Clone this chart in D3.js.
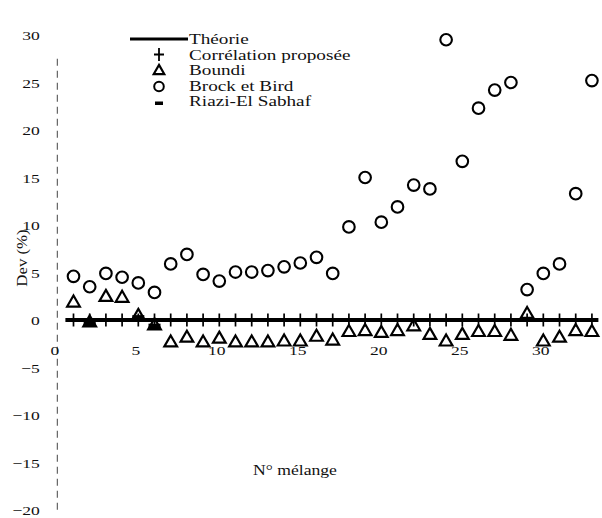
<!DOCTYPE html>
<html>
<head>
<meta charset="utf-8">
<script src="https://cdn.jsdelivr.net/npm/d3@7"></script>
<style>
  body { margin: 0; background: #fff; }
  svg { display: block; }
  text { font-family: "Liberation Serif", "Times New Roman", serif; fill: #111; }
</style>
</head>
<body>
<svg id="chart" width="602" height="518"></svg>
<script>
// Mixture numbers (N° mélange)
const melanges = [1, 2, 3, 4, 5, 6, 7, 8, 9, 10, 11, 12, 13, 14, 15, 16, 17,
                  18, 19, 20, 21, 22, 23, 24, 25, 26, 27, 28, 29, 30, 31, 32, 33];

// Theory: zero deviation across the whole range of mixtures
const theorieX = [0.5, 33.4];
const theorieY = [0, 0];

// Proposed correlation: deviation (%) per mixture
const correlation = [0, 0, 0, 0, 0, 0, 0, 0, 0, 0, 0, 0, 0, 0, 0, 0, 0,
                     0, 0, 0, 0, 0, 0, 0, 0, 0, 0, 0, 0, 0, 0, 0, 0];

// Boundi: deviation (%) per mixture
const boundi = [1.8, -0.3, 2.4, 2.3, 0.4, -0.6, -2.4, -1.9, -2.4, -2.0, -2.4, -2.4, -2.4, -2.3, -2.3, -1.8, -2.2,
                -1.3, -1.2, -1.4, -1.2, -0.7, -1.6, -2.3, -1.6, -1.3, -1.3, -1.7, 0.6, -2.3, -1.9, -1.2, -1.3];

// Brock et Bird: deviation (%) per mixture
const brockBird = [4.6, 3.5, 4.9, 4.5, 3.9, 2.9, 5.9, 6.9, 4.8, 4.1, 5.05, 5.05, 5.2, 5.6, 6.0, 6.6, 4.9,
                   9.8, 15.0, 10.3, 11.9, 14.2, 13.8, 29.5, 16.7, 22.3, 24.2, 25.0, 3.2, 4.9, 5.9, 13.3, 25.2];

// Riazi-El Sahhaf: only a few mixtures
const riaziMelanges = [2, 5, 6];
const riazi = [-0.4, 0.2, -0.7];

// Axis ticks
const xTicks = [0, 5, 10, 15, 20, 25, 30];
const yTicks = [-20, -15, -10, -5, 0, 5, 10, 15, 20, 25, 30];

// Legend entries
const legendLabels = ["Théorie", "Corrélation proposée", "Boundi", "Brock et Bird", "Riazi-El Sabhaf"];

const svg = d3.select("#chart");
const serif = "'Liberation Serif', 'Times New Roman', serif";

const plot = { left: 57.3, right: 598.4, top: 35, bottom: 510 };
const x = d3.scaleLinear().domain([0, 33.4]).range([plot.left, plot.right]);
const y = d3.scaleLinear().domain([-20, 30]).range([plot.bottom, plot.top]);

// Text in this figure is set slightly wide
function wideText(g, str, tx, ty, sx, size, anchor, rotate) {
  return g.append("text")
    .attr("transform", `translate(${tx},${ty})${rotate ? ` rotate(${rotate})` : ""} scale(${sx},1)`)
    .attr("font-size", size)
    .attr("text-anchor", anchor || "start")
    .attr("dy", "0.35em")
    .text(str);
}

// Y axis: broken (dashed) vertical rule with tick labels on the left
svg.append("line")
  .attr("x1", x(0)).attr("x2", x(0))
  .attr("y1", y(27.5)).attr("y2", y(-20))
  .attr("stroke", "#444").attr("stroke-width", 1)
  .attr("stroke-dasharray", "7,5");

const yAxis = svg.append("g")
  .attr("transform", `translate(${x(0)},0)`)
  .call(d3.axisLeft(y).tickValues(yTicks).tickSize(0).tickPadding(0).tickFormat(d3.format("d")))
  .attr("font-family", null).attr("font-size", null);
yAxis.select(".domain").remove();
yAxis.selectAll("text")
  .attr("x", null).attr("dy", null)
  .style("font-family", serif)
  .style("font-size", "13px")
  .attr("fill", "#111")
  .attr("transform", "translate(-17.5,4.5) scale(1.35,1)")
  .attr("text-anchor", "end");

// X axis: tick labels only, beneath the zero line
const xAxis = svg.append("g")
  .attr("transform", `translate(0,${y(0)})`)
  .call(d3.axisBottom(x).tickValues(xTicks).tickSize(0).tickPadding(0).tickFormat(d3.format("d")))
  .attr("font-family", null).attr("font-size", null);
xAxis.select(".domain").remove();
xAxis.selectAll("text")
  .attr("y", null).attr("dy", null)
  .style("font-family", serif)
  .style("font-size", "13px")
  .attr("fill", "#111")
  .attr("transform", "translate(-3,34.5) scale(1.35,1)")
  .attr("text-anchor", "middle");

// Axis titles
wideText(svg, "Dev (%)", 22, 258, 1.2, 14, "middle", -90);
wideText(svg, "N° mélange", 295, 470, 1.26, 14, "middle");

// Theory line
const line = d3.line().x(d => x(d[0])).y(d => y(d[1]));
svg.append("path")
  .datum(d3.zip(theorieX, theorieY))
  .attr("d", line)
  .attr("fill", "none")
  .attr("stroke", "#000")
  .attr("stroke-width", 3.8);

// Proposed correlation: plus markers
const plusPath = "M-5,0H5M0,-6.5V6.5";
svg.append("g").selectAll("path")
  .data(d3.zip(melanges, correlation))
  .join("path")
  .attr("transform", d => `translate(${x(d[0])},${y(d[1])})`)
  .attr("d", plusPath)
  .attr("stroke", "#000").attr("stroke-width", 1.7).attr("fill", "none");

// Boundi: open triangles
const tri = d3.symbol(d3.symbolTriangle, 70);
svg.append("g").selectAll("path")
  .data(d3.zip(melanges, boundi))
  .join("path")
  .attr("transform", d => `translate(${x(d[0])},${y(d[1])})`)
  .attr("d", tri)
  .attr("fill", "none")
  .attr("stroke", "#000").attr("stroke-width", 2.2);

// Brock et Bird: open circles
svg.append("g").selectAll("circle")
  .data(d3.zip(melanges, brockBird))
  .join("circle")
  .attr("cx", d => x(d[0])).attr("cy", d => y(d[1]))
  .attr("r", 5.8)
  .attr("fill", "none")
  .attr("stroke", "#000").attr("stroke-width", 2.1);

// Riazi-El Sahhaf: short thick dashes
svg.append("g").selectAll("rect")
  .data(d3.zip(riaziMelanges, riazi))
  .join("rect")
  .attr("x", d => x(d[0]) - 6).attr("y", d => y(d[1]) - 3)
  .attr("width", 12).attr("height", 6)
  .attr("fill", "#000");

// Legend
const legend = svg.append("g");
const legendRows = [39, 54.5, 70, 85.5, 101];
const keyX = 159, textX = 189;

legend.append("line")
  .attr("x1", 130).attr("x2", 188)
  .attr("y1", legendRows[0]).attr("y2", legendRows[0])
  .attr("stroke", "#000").attr("stroke-width", 3);
legend.append("path")
  .attr("transform", `translate(${keyX},${legendRows[1]})`)
  .attr("d", plusPath)
  .attr("stroke", "#000").attr("stroke-width", 1.8).attr("fill", "none");
legend.append("path")
  .attr("transform", `translate(${keyX},${legendRows[2] + 1})`)
  .attr("d", d3.symbol(d3.symbolTriangle, 48))
  .attr("fill", "none").attr("stroke", "#000").attr("stroke-width", 2.2);
legend.append("circle")
  .attr("cx", keyX).attr("cy", legendRows[3] + 1).attr("r", 4.8)
  .attr("fill", "none").attr("stroke", "#000").attr("stroke-width", 2);
legend.append("rect")
  .attr("x", keyX - 4).attr("y", legendRows[4] + 0.5)
  .attr("width", 8).attr("height", 3.5)
  .attr("fill", "#000");

legendLabels.forEach((lab, i) => wideText(legend, lab, textX, legendRows[i], 1.28, 15, "start"));
</script>
</body>
</html>
